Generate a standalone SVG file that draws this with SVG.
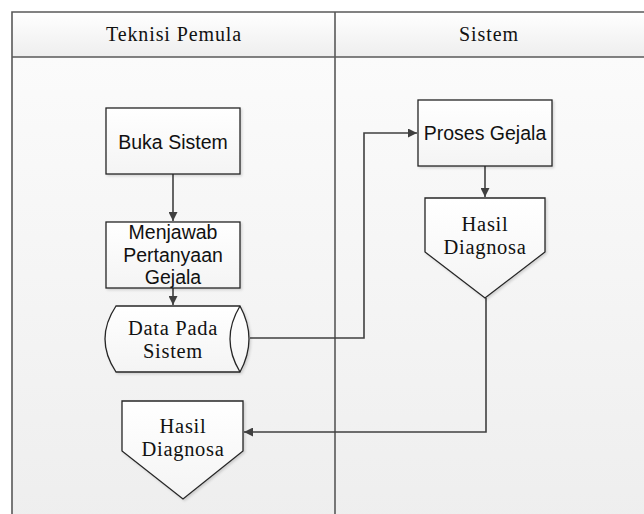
<svg xmlns="http://www.w3.org/2000/svg" width="644" height="514" viewBox="0 0 644 514">
<style>
.shape{fill:url(#shapeFill);stroke:#262626;stroke-width:1.3;filter:url(#shadow)}
.conn{fill:none;stroke:#404040;stroke-width:1.6}
.frame{fill:none;stroke:#595959;stroke-width:1.6}
.sans{font-family:"Liberation Sans","Noto Sans",Arial,sans-serif;font-size:19.5px;fill:#111;text-anchor:middle}
.serif{font-family:"Liberation Serif","Times New Roman",serif;font-size:20.5px;letter-spacing:0.7px;fill:#111;text-anchor:middle}
.head{font-family:"Liberation Serif","Times New Roman",serif;font-size:20px;letter-spacing:0.9px;fill:#111;text-anchor:middle}
</style>
<defs>
<linearGradient id="headFill" x1="0" y1="0" x2="0" y2="1">
<stop offset="0" stop-color="#ffffff"/>
<stop offset="1" stop-color="#eeeeee"/>
</linearGradient>
<linearGradient id="bodyFill" x1="0" y1="0" x2="0" y2="1">
<stop offset="0" stop-color="#fbfbfb"/>
<stop offset="1" stop-color="#eeeeee"/>
</linearGradient>
<linearGradient id="shapeFill" x1="0" y1="0" x2="0" y2="1">
<stop offset="0" stop-color="#ffffff"/>
<stop offset="1" stop-color="#f4f4f4"/>
</linearGradient>
<filter id="shadow" x="-10%" y="-10%" width="130%" height="130%">
<feDropShadow dx="1.5" dy="1.5" stdDeviation="1" flood-color="#000" flood-opacity="0.15"/>
</filter>
<marker id="arrow" viewBox="0 0 10 10" refX="10" refY="5" markerWidth="9" markerHeight="9" orient="auto" markerUnits="userSpaceOnUse">
<path d="M0,0 L10,5 L0,10 Z" fill="#404040"/>
</marker>
</defs>
<rect x="0" y="0" width="644" height="514" fill="#ffffff"/>
<g id="pool">
<rect x="12" y="12" width="640" height="45" fill="url(#headFill)"/>
<rect x="12" y="57" width="640" height="470" fill="url(#bodyFill)"/>
<path class="frame" d="M12,514 V12 H644 M12,57 H644 M335,12 V514"/>
<text class="head" x="174" y="41">Teknisi Pemula</text>
<text class="head" x="489" y="41">Sistem</text>
</g>
<g id="connectors">
<path class="conn" d="M173,174 V221" marker-end="url(#arrow)"/>
<path class="conn" d="M173,288 V305" marker-end="url(#arrow)"/>
<path class="conn" d="M250,338 H364 V133 H417" marker-end="url(#arrow)"/>
<path class="conn" d="M485,166 V197" marker-end="url(#arrow)"/>
<path class="conn" d="M486,298 V432 H244" marker-end="url(#arrow)"/>
</g>
<g id="buka-sistem">
<rect class="shape" x="106" y="108" width="134" height="66"/>
<text class="sans" x="173" y="149">Buka Sistem</text>
</g>
<g id="menjawab">
<rect class="shape" x="106" y="222" width="134" height="66"/>
<text class="sans" x="173" y="239">Menjawab</text>
<text class="sans" x="173" y="262">Pertanyaan</text>
<text class="sans" x="173" y="284">Gejala</text>
</g>
<g id="data-pada-sistem">
<path class="shape" d="M116,306 L240,306 Q258,339 240,372 L116,372 Q94,339 116,306 Z"/>
<path d="M240,306 Q220,339 240,372" fill="none" stroke="#262626" stroke-width="1.3"/>
<text class="serif" x="173" y="335">Data Pada</text>
<text class="serif" x="173" y="358">Sistem</text>
</g>
<g id="proses-gejala">
<rect class="shape" x="418" y="100" width="134" height="66"/>
<text class="sans" x="485" y="140">Proses Gejala</text>
</g>
<g id="hasil-diagnosa-sistem">
<path class="shape" d="M425,198 H545 V252 L485,298 L425,252 Z"/>
<text class="serif" x="485" y="231">Hasil</text>
<text class="serif" x="485" y="254">Diagnosa</text>
</g>
<g id="hasil-diagnosa-teknisi">
<path class="shape" d="M122,401 H243 V451 L183,499 L122,451 Z"/>
<text class="serif" x="183" y="433">Hasil</text>
<text class="serif" x="183" y="456">Diagnosa</text>
</g>
</svg>
